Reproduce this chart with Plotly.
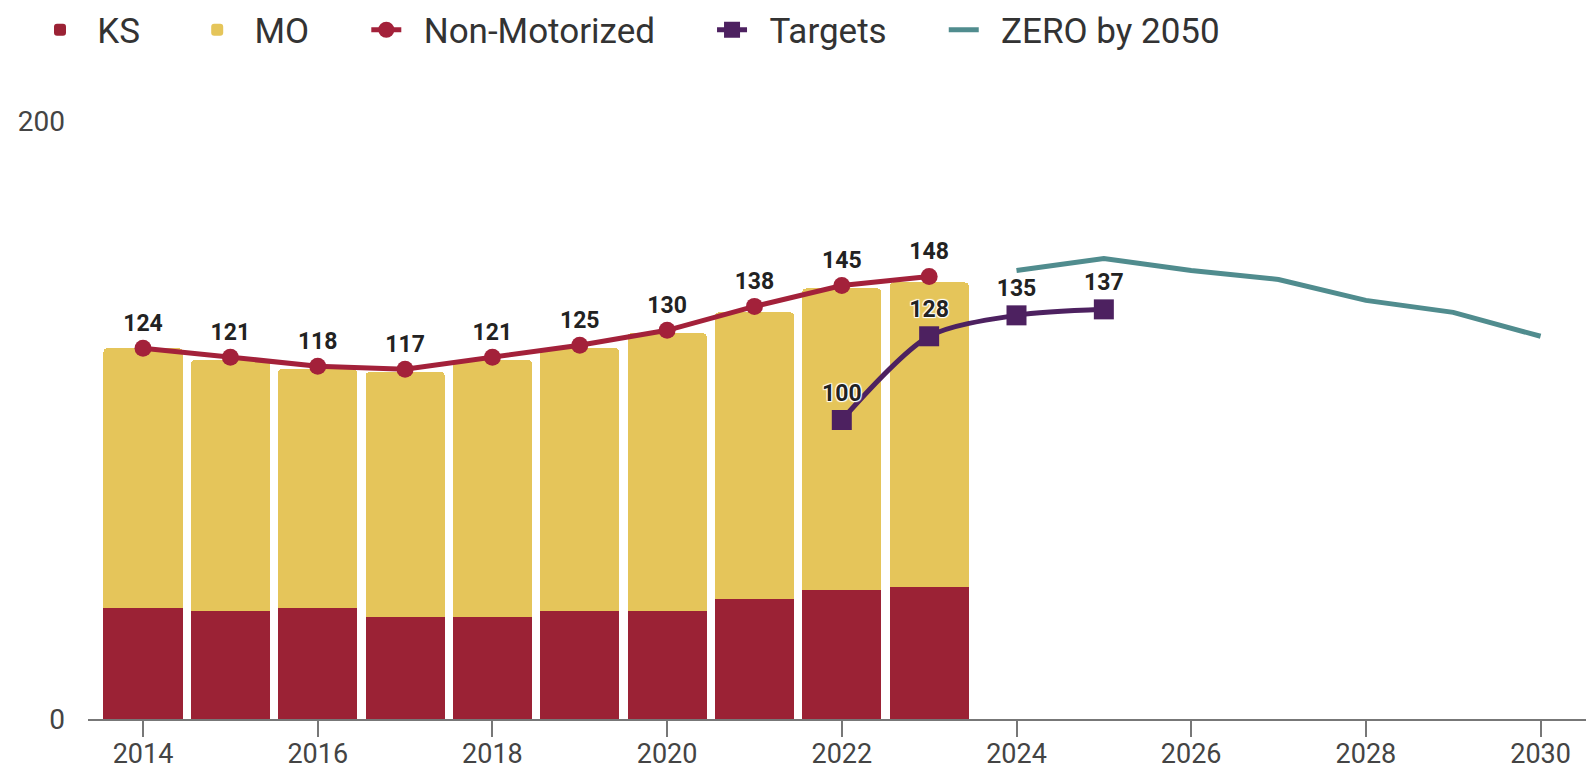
import plotly.graph_objects as go

years = [2014, 2015, 2016, 2017, 2018, 2019, 2020, 2021, 2022, 2023]
ks = [37, 36, 37, 34, 34, 36, 36, 40, 43, 44]
mo = [87, 84, 80, 82, 86, 88, 93, 96, 101, 102]
non_motorized = [124, 121, 118, 117, 121, 125, 130, 138, 145, 148]

target_years = [2022, 2023, 2024, 2025]
targets = [100, 128, 135, 137]

zero_years = [2024, 2025, 2026, 2027, 2028, 2029, 2030]
zero_2050 = [150, 154, 150, 147, 140, 136, 128]

C_KS = "#9b2235"
C_MO = "#e5c55a"
C_NM = "#a3213a"
C_TG = "#4d2160"
C_ZR = "#508c8e"

NB = "\u00a0"


def legend_name(s):
    return NB * 2 + s + NB * 6


label_font = dict(family="Roboto, Arial, sans-serif", size=23, color="#222222",
                  weight="bold",
                  shadow="1px 1px 1px #fff, -1px -1px 1px #fff, 1px -1px 1px #fff, -1px 1px 1px #fff")

fig = go.Figure()
fig.add_trace(go.Bar(x=years, y=ks, name=legend_name("KS"),
                     marker=dict(color=C_KS, line=dict(width=0))))
fig.add_trace(go.Bar(x=years, y=mo, name=legend_name("MO"),
                     marker=dict(color=C_MO, line=dict(width=0))))
fig.add_trace(go.Scatter(
    x=years, y=non_motorized, name=legend_name("Non-Motorized"), mode="lines+markers+text",
    line=dict(color=C_NM, width=5), marker=dict(color=C_NM, size=17, symbol="circle"),
    text=[str(v) for v in non_motorized], textposition="top center", textfont=label_font,
))
fig.add_trace(go.Scatter(
    x=target_years, y=targets, name=legend_name("Targets"), mode="lines+markers+text",
    line=dict(color=C_TG, width=5, shape="spline", smoothing=0.8),
    marker=dict(color=C_TG, size=20, symbol="square"),
    text=[str(v) for v in targets], textposition="top center", textfont=label_font,
))
fig.add_trace(go.Scatter(
    x=zero_years, y=zero_2050, name=legend_name("ZERO by 2050"), mode="lines",
    line=dict(color=C_ZR, width=5),
))

fig.update_layout(
    width=1586, height=772,
    margin=dict(l=88, r=0, t=121, b=53, pad=0),
    barmode="stack", bargap=0.094, barcornerradius=4,
    plot_bgcolor="white", paper_bgcolor="white",
    font=dict(family="Roboto, Arial, sans-serif", color="#333333"),
    legend=dict(orientation="h", xref="container", yref="container",
                x=40 / 1586, y=1 - 30 / 772, xanchor="left", yanchor="middle",
                font=dict(size=35, color="#333333"), itemwidth=30,
                traceorder="normal"),
    xaxis=dict(range=[2013.37, 2030.52], tickmode="array",
               tickvals=[2014, 2016, 2018, 2020, 2022, 2024, 2026, 2028, 2030],
               ticks="outside", ticklen=16, tickwidth=2, tickcolor="#777777",
               showline=True, linecolor="#777777", linewidth=2,
               showgrid=False, zeroline=False, automargin=False,
               ticklabelstandoff=-6,
               tickfont=dict(size=27, color="#444444")),
    yaxis=dict(range=[0, 200], tickvals=[0, 200], showgrid=True,
               gridcolor="#cccccc", gridwidth=1.5, zeroline=False,
               ticks="", ticklabelstandoff=22, automargin=False,
               tickfont=dict(size=28, color="#444444")),
    showlegend=True,
)

fig.write_html("out.html", config={"displayModeBar": False},
               post_script="document.body.style.margin='0';document.body.style.overflow='hidden';")
